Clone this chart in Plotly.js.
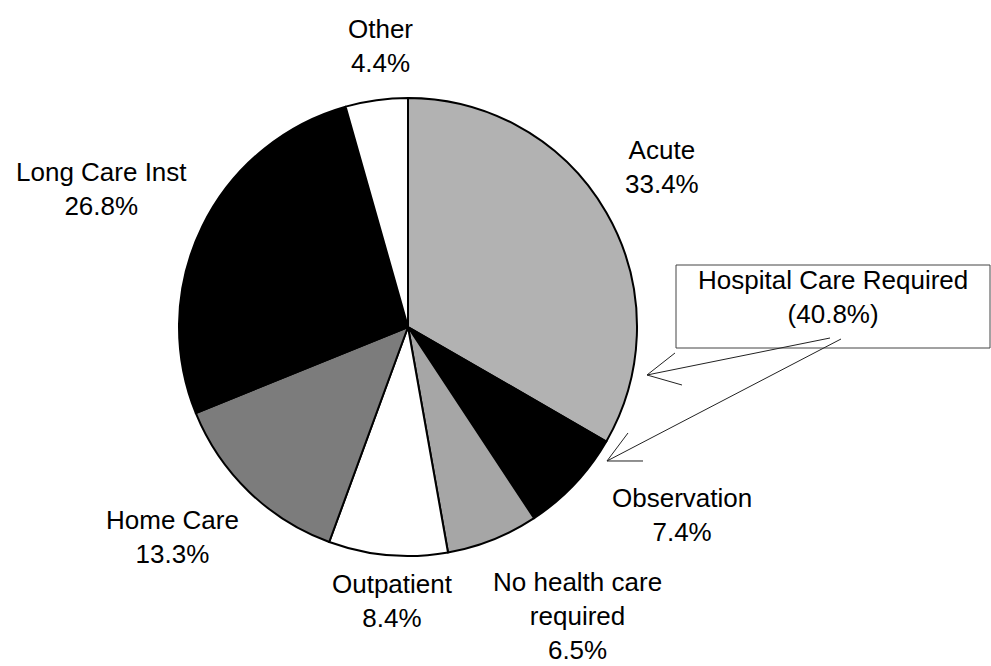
<!DOCTYPE html>
<html>
<head>
<meta charset="utf-8">
<script src="https://cdn.plot.ly/plotly-3.0.1.min.js"></script>
<style>html,body{margin:0;padding:0;background:#fff;}#chart{width:991px;height:666px;}</style>
</head>
<body>
<div id="chart"></div>
<script>
// Data
const categories = ["Acute", "Observation", "No health care required", "Outpatient", "Home Care", "Long Care Inst", "Other"];
const percentValues = [33.4, 7.4, 6.5, 8.4, 13.3, 26.8, 4.4];
const sliceColors = ["#b2b2b2", "#000000", "#a6a6a6", "#ffffff", "#7c7c7c", "#000000", "#ffffff"];
const labelLines = [["Acute"], ["Observation"], ["No health care", "required"], ["Outpatient"], ["Home Care"], ["Long Care Inst"], ["Other"]];
const groupLabel = ["Hospital Care Required", "(40.8%)"];

const W = 991, H = 666;
const px = x => x / W;
const py = y => 1 - y / H;

// label centre positions (pixels, layout only)
const labelPos = [[662, 167], [682, 515], [577, 616], [392, 601], [172, 537], [101, 189], [380, 46]];

const annotations = categories.map((c, i) => ({
  xref: 'paper', yref: 'paper',
  x: px(labelPos[i][0]), y: py(labelPos[i][1]),
  xanchor: 'center', yanchor: 'middle',
  text: labelLines[i].join('<br>') + '<br>' + percentValues[i].toFixed(1) + '%',
  showarrow: false,
  font: {family: 'Liberation Sans, Arial, sans-serif', size: 26, color: '#000'}
}));
annotations.push({
  xref: 'paper', yref: 'paper',
  x: px(833), y: py(297), xanchor: 'center', yanchor: 'middle',
  text: groupLabel.join('<br>'), showarrow: false,
  font: {family: 'Liberation Sans, Arial, sans-serif', size: 26, color: '#000'}
});

function pathOf(pts) {
  return pts.map((p, i) => (i ? 'L' : 'M') + px(p[0]).toFixed(5) + ',' + py(p[1]).toFixed(5)).join(' ');
}
const lineStyle = {color: '#222', width: 1};
const shapes = [
  {type: 'rect', xref: 'paper', yref: 'paper', x0: px(676), x1: px(990), y0: py(265), y1: py(348), line: {color: '#444', width: 1}, fillcolor: 'rgba(0,0,0,0)'},
  {type: 'path', xref: 'paper', yref: 'paper', path: pathOf([[830, 338], [647, 375]]), line: lineStyle},
  {type: 'path', xref: 'paper', yref: 'paper', path: pathOf([[675, 353], [647, 375], [682, 385]]), line: lineStyle},
  {type: 'path', xref: 'paper', yref: 'paper', path: pathOf([[841, 339], [607, 461]]), line: lineStyle},
  {type: 'path', xref: 'paper', yref: 'paper', path: pathOf([[628, 433], [607, 461], [643, 461]]), line: lineStyle}
];

const trace = {
  type: 'pie',
  labels: categories,
  values: percentValues,
  sort: false,
  direction: 'clockwise',
  rotation: 0,
  textinfo: 'none',
  hoverinfo: 'label+percent',
  marker: {colors: sliceColors, line: {color: '#000', width: 2}},
  domain: {x: [px(408 - 229), px(408 + 229)], y: [py(327 + 229), py(327 - 229)]},
  showlegend: false
};

Plotly.newPlot('chart', [trace], {
  width: W, height: H,
  margin: {l: 0, r: 0, t: 0, b: 0},
  paper_bgcolor: '#fff', plot_bgcolor: '#fff',
  showlegend: false,
  annotations: annotations,
  shapes: shapes
}, {displayModeBar: false, staticPlot: true});
</script>
</body>
</html>
